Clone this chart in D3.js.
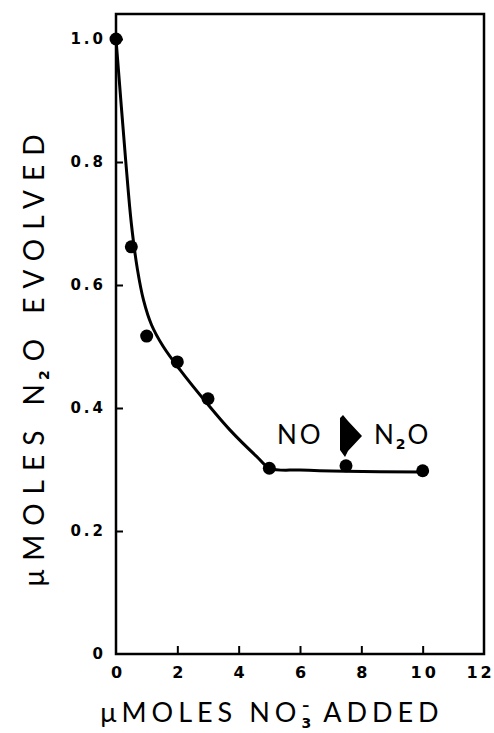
<!DOCTYPE html>
<html>
<head>
<meta charset="utf-8">
<script src="https://cdn.jsdelivr.net/npm/d3@7"></script>
<style>
  body { margin: 0; background: #fff; }
  text { fill: #000; }
  .tl { font-family: "DejaVu Sans", sans-serif; font-weight: bold; }
  .ttl { font-family: Lato, "DejaVu Sans", sans-serif; font-weight: 400; }
</style>
</head>
<body>
<svg width="494" height="733" id="mainsvg"></svg>
<script>
    // measured points
    const nitrateAdded = [0, 0.5, 1, 2, 3, 5, 7.5, 10];
    const n2oEvolved = [1.0, 0.662, 0.517, 0.475, 0.415, 0.302, 0.306, 0.298];
    // hand-drawn fitted curve
    const curveX = [0, 0.32, 0.5, 0.7, 0.9, 1.16, 1.54, 2.09, 2.96, 3.72, 4.59, 5.02, 6, 7.5, 10];
    const curveY = [1.0, 0.8, 0.70, 0.625, 0.575, 0.535, 0.50, 0.462, 0.408, 0.364, 0.321, 0.302, 0.299, 0.297, 0.296];
    const xTicks = [0, 2, 4, 6, 8, 10, 12];
    const yTicks = [0, 0.2, 0.4, 0.6, 0.8, 1.0];

    const svg = d3.select('#mainsvg');
    const mLeft = 116, mRight = 484, mBottom = 654, mTop = 14;

    const x = d3.scaleLinear().domain([0, 12]).range([mLeft, mRight]);
    const y = d3.scaleLinear().domain([0, 1]).range([mBottom, 39]);

    // frame
    svg.append('rect')
        .attr('x', mLeft).attr('y', mTop)
        .attr('width', mRight - mLeft).attr('height', mBottom - mTop)
        .style('fill', 'none').style('stroke', '#000').style('stroke-width', 2.5);

    const xAxis = svg.append('g')
        .attr('transform', `translate(0,${mBottom})`)
        .call(d3.axisBottom(x).tickValues(xTicks).tickSize(-8).tickPadding(13).tickFormat(d3.format('d')));
    const yAxis = svg.append('g')
        .attr('transform', `translate(${mLeft},0)`)
        .call(d3.axisLeft(y).tickValues(yTicks).tickSize(-7).tickPadding(10)
            .tickFormat(d => d === 0 ? '0' : d3.format('.1f')(d)));

    [xAxis, yAxis].forEach(g => {
        g.select('.domain').remove();
        g.selectAll('.tick line').style('stroke', '#000').style('stroke-width', 2);
        g.selectAll('.tick text').attr('class', 'tl')
            .style('letter-spacing', '3px');
    });
    xAxis.selectAll('.tick text').style('font-size', '16px').attr('dx', 1.5);
    yAxis.selectAll('.tick text').style('font-size', '15px');
    xAxis.selectAll('.tick').filter(d => d === 12).select('text').attr('dx', -4);
    xAxis.selectAll('.tick').filter(d => d === 0 || d === 12).select('line').remove();
    yAxis.selectAll('.tick').filter(d => d === 0).select('line').remove();

    // fitted curve
    const pts = curveX.map((d, i) => [d, curveY[i]]);
    svg.append('path')
        .datum(pts)
        .attr('d', d3.line().x(d => x(d[0])).y(d => y(d[1])).curve(d3.curveCatmullRom))
        .style('fill', 'none').style('stroke', '#000').style('stroke-width', 3);

    svg.selectAll('circle.pt')
        .data(nitrateAdded)
        .join('circle')
        .attr('class', 'pt')
        .attr('cx', d => x(d))
        .attr('cy', (d, i) => y(n2oEvolved[i]))
        .attr('r', 6.5)
        .style('fill', '#000');

    // annotation NO -> N2O
    const ann = svg.append('g');
    ann.append('text').attr('class', 'ttl')
        .attr('x', 277).attr('y', 444)
        .style('font-size', '26px').style('letter-spacing', '3px')
        .text('NO');
    ann.append('path')
        .attr('d', 'M340,418 L343,415 L348,421 L362,436 L348,451 L345,457 L340,450 Z')
        .style('fill', '#000');
    const t2 = ann.append('text').attr('class', 'ttl')
        .attr('x', 374).attr('y', 444)
        .style('font-size', '26px');
    t2.append('tspan').text('N');
    t2.append('tspan').attr('class', 'tl').attr('dx', 2).attr('dy', 5).style('font-size', '14px').text('2');
    t2.append('tspan').attr('dx', 2).attr('dy', -5).text('O');

    // axis titles
    const xt = svg.append('text').attr('class', 'ttl')
        .attr('x', 272).attr('y', 722)
        .attr('text-anchor', 'middle')
        .style('font-size', '27px').style('letter-spacing', '5px');
    xt.append('tspan').text('\u03bcMOLES NO');
    xt.append('tspan').attr('class', 'tl').attr('dx', 0).attr('dy', 6).style('font-size', '14px').style('letter-spacing', '0px').text('3');
    xt.append('tspan').attr('class', 'tl').attr('dx', -9).attr('dy', -18).style('font-size', '14px').style('letter-spacing', '0px').text('\u2013');
    xt.append('tspan').attr('dx', 14).attr('dy', 12).text('ADDED');

    const yt = svg.append('text').attr('class', 'ttl')
        .attr('transform', 'translate(44,356) rotate(-90)')
        .attr('text-anchor', 'middle')
        .style('font-size', '28px').style('letter-spacing', '9px');
    yt.append('tspan').text('\u03bcMOLES  N');
    yt.append('tspan').attr('class', 'tl').attr('dx', -5).attr('dy', 5).style('font-size', '14px').text('2');
    yt.append('tspan').attr('dy', -5).text('O  EVOLVED');
</script>
</body>
</html>
